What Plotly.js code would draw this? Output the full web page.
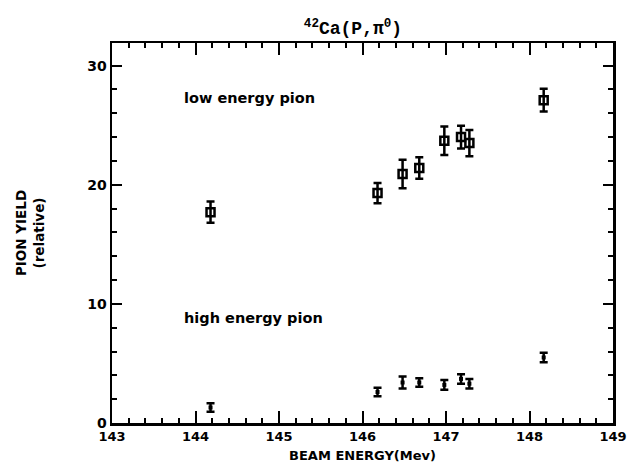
<!DOCTYPE html>
<html>
<head>
<meta charset="utf-8">
<script src="https://cdn.plot.ly/plotly-3.0.1.min.js"></script>
<style>html,body{margin:0;padding:0;background:#fff;}#chart{width:638px;height:469px;}</style>
</head>
<body>
<div id="chart"></div>
<script>
// Beam energies (MeV)
const energyLow  = [144.18, 146.18, 146.48, 146.68, 146.98, 147.18, 147.28, 148.17];
const yieldLow   = [17.7, 19.3, 20.9, 21.4, 23.7, 24.0, 23.5, 27.1];
const errLow     = [0.9, 0.85, 1.2, 0.9, 1.2, 0.95, 1.1, 0.95];

const energyHigh = [144.18, 146.18, 146.48, 146.68, 146.98, 147.18, 147.28, 148.17];
const yieldHigh  = [1.3, 2.6, 3.4, 3.4, 3.2, 3.7, 3.3, 5.5];
const errHigh    = [0.35, 0.35, 0.5, 0.35, 0.4, 0.4, 0.4, 0.4];

const xTicks = [143, 144, 145, 146, 147, 148, 149];
const yTicks = [0, 10, 20, 30];

const traces = [
  {
    x: energyLow, y: yieldLow, type: 'scatter', mode: 'markers', name: 'low energy pion',
    marker: {symbol: 'square-open', size: 8, color: '#000', line: {width: 2.5, color: '#000'}},
    error_y: {type: 'data', array: errLow, visible: true, color: '#000', thickness: 2.5, width: 4}
  },
  {
    x: energyHigh, y: yieldHigh, type: 'scatter', mode: 'markers', name: 'high energy pion',
    marker: {symbol: 'square', size: 4, color: '#000'},
    error_y: {type: 'data', array: errHigh, visible: true, color: '#000', thickness: 2.5, width: 4}
  }
];

const tickFont = {family: 'DejaVu Sans', size: 13, color: '#000', weight: 'bold'};
const noteFont = {family: 'DejaVu Sans', size: 14.5, color: '#000', weight: 'bold'};

const layout = {
  width: 638, height: 469,
  margin: {l: 112, r: 25, t: 43, b: 46},
  paper_bgcolor: '#fff', plot_bgcolor: '#fff',
  showlegend: false,
  title: {
    text: '<sup>42</sup>Ca(P,π<sup>0</sup>)',
    font: {family: 'Liberation Mono', size: 18, color: '#000', weight: 'bold'},
    x: 353/638, xanchor: 'center', xref: 'container',
    y: 1 - 28/469, yanchor: 'middle', yref: 'container'
  },
  xaxis: {
    range: [143, 149], tickvals: xTicks, ticktext: xTicks.map(String),
    ticks: 'inside', ticklen: 12, tickwidth: 2, tickcolor: '#000',
    minor: {dtick: 0.2, ticks: 'inside', ticklen: 5, tickwidth: 2, tickcolor: '#000'},
    showline: true, linewidth: 2.5, linecolor: '#000', mirror: 'ticks',
    showgrid: false, zeroline: false,
    tickfont: tickFont,
    title: {text: 'BEAM ENERGY(Mev)', font: {family: 'DejaVu Sans', size: 13, color: '#000', weight: 'bold'}, standoff: 8}
  },
  yaxis: {
    range: [0, 31.9], tickvals: yTicks, ticktext: yTicks.map(String),
    ticks: 'inside', ticklen: 10, tickwidth: 2, tickcolor: '#000',
    minor: {dtick: 2, ticks: 'inside', ticklen: 5, tickwidth: 2, tickcolor: '#000'},
    showline: true, linewidth: 2.5, linecolor: '#000', mirror: 'ticks',
    showgrid: false, zeroline: false,
    tickfont: {family: 'DejaVu Sans', size: 14, color: '#000', weight: 'bold'},
    title: {text: 'PION YIELD<br>(relative)', font: {family: 'DejaVu Sans', size: 13.5, color: '#000', weight: 'bold'}, standoff: 40}
  },
  annotations: [
    {text: 'low energy pion', xref: 'paper', yref: 'paper', x: (182-112)/501, y: (423-98)/380,
     xanchor: 'left', yanchor: 'middle', showarrow: false, font: noteFont},
    {text: 'high energy pion', xref: 'paper', yref: 'paper', x: (182-112)/501, y: (423-318)/380,
     xanchor: 'left', yanchor: 'middle', showarrow: false, font: noteFont}
  ]
};

Plotly.newPlot('chart', traces, layout, {displayModeBar: false, staticPlot: true});
</script>
</body>
</html>
